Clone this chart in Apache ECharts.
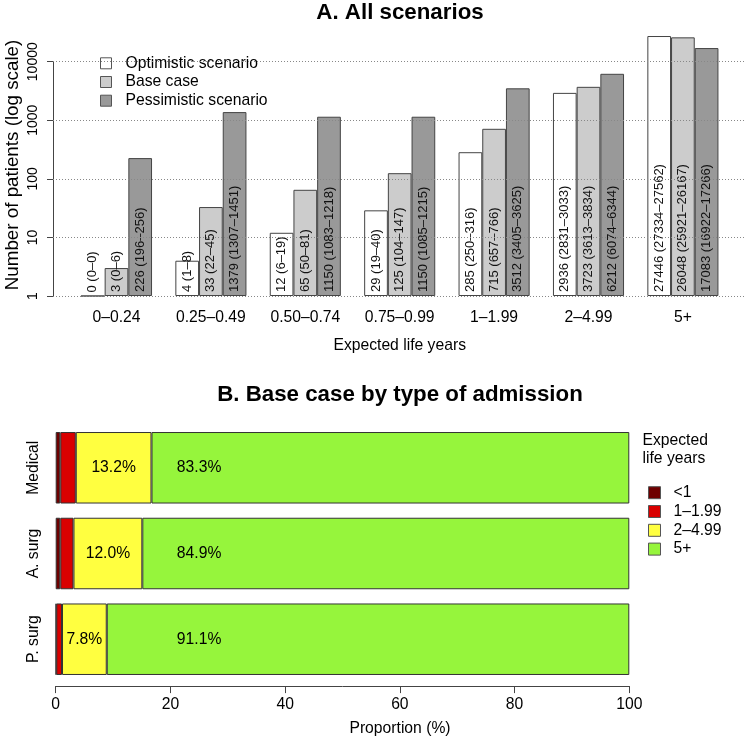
<!DOCTYPE html>
<html><head><meta charset="utf-8">
<script src="https://cdn.jsdelivr.net/npm/echarts@6/dist/echarts.min.js"></script>
<style>html,body{margin:0;padding:0;background:#fff}#c{width:745px;height:740px}</style>
</head><body><div id="c"></div>
<script>
// ---------- Panel A data ----------
const categories = ['0–0.24', '0.25–0.49', '0.50–0.74', '0.75–0.99', '1–1.99', '2–4.99', '5+'];
const scenarioNames = ['Optimistic scenario', 'Base case', 'Pessimistic scenario'];
const optimistic     = [0, 4, 12, 29, 285, 2936, 27446];
const optimisticLow  = [0, 1, 6, 19, 250, 2831, 27334];
const optimisticHigh = [0, 8, 19, 40, 316, 3033, 27562];
const baseCase       = [3, 33, 65, 125, 715, 3723, 26048];
const baseCaseLow    = [0, 22, 50, 104, 657, 3613, 25921];
const baseCaseHigh   = [6, 45, 81, 147, 766, 3834, 26167];
const pessimistic     = [226, 1379, 1150, 1150, 3512, 6212, 17083];
const pessimisticLow  = [196, 1307, 1083, 1085, 3405, 6074, 16922];
const pessimisticHigh = [256, 1451, 1218, 1215, 3625, 6344, 17266];
const yTicks = [1, 10, 100, 1000, 10000];

// ---------- Panel B data ----------
const admission = ['Medical', 'A. surg', 'P. surg'];
const lifeGroups = ['<1', '1–1.99', '2–4.99', '5+'];
const under1   = [0.8, 0.8, 0.1];
const y1to2    = [2.7, 2.3, 1.0];
const y2to5    = [13.2, 12.0, 7.8];
const y5plus   = [83.3, 84.9, 91.1];
const xTicksB  = [0, 20, 40, 60, 80, 100];
const GREEN_LABEL_AT = 25; // axis value where the 5+ labels are centred

// ---------- layout / style ----------
const FONT = 'Liberation Sans, Arial, Helvetica, sans-serif';
const TXT = '#000';
const LINE = '#444';
const gridA = {left: 69.3, right: 14.9, top: 61.7, bottom: 444};
const gridB = {left: 55.7, right: 115.7, top: 424.9, bottom: 57.9};
const pxPerPct = (745 - gridB.left - gridB.right) / 100;

function barLabel(vals, lo, hi) {
  return {
    show: true, position: 'insideBottom', rotate: 90, align: 'left', verticalAlign: 'middle',
    distance: 4, fontSize: 13, color: '#111', fontFamily: FONT,
    formatter: p => `${vals[p.dataIndex]} (${lo[p.dataIndex]}–${hi[p.dataIndex]})`
  };
}
function topSeries(name, vals, lo, hi, color) {
  return {
    name, type: 'bar', xAxisIndex: 0, yAxisIndex: 0, clip: false,
    barGap: '0%', barCategoryGap: '24.7%',
    itemStyle: {color, borderColor: LINE, borderWidth: 1},
    label: barLabel(vals, lo, hi),
    data: vals.map(v => Math.max(v, yTicks[0]))
  };
}
const bColors = ['#6E0000', '#D90000', '#FFFF40', '#96F53C'];
const starts5 = admission.map((_, i) => under1[i] + y1to2[i] + y2to5[i]);
function botSeries(k, vals, labelCfg) {
  return {
    name: lifeGroups[k], type: 'bar', stack: 'b', xAxisIndex: 2, yAxisIndex: 2,
    barCategoryGap: '16.6%',
    itemStyle: {color: bColors[k], borderColor: '#333', borderWidth: 1},
    label: labelCfg || {show: false},
    data: vals
  };
}

const option = {
  animation: false,
  textStyle: {fontFamily: FONT, color: TXT},
  title: [
    {text: 'A. All scenarios', left: 400, top: 2, textAlign: 'center', padding: 0,
     textStyle: {fontSize: 22.3, fontWeight: 'bold', color: TXT, fontFamily: FONT, lineHeight: 22}},
    {text: 'B. Base case by type of admission', left: 400, top: 384, textAlign: 'center', padding: 0,
     textStyle: {fontSize: 22.3, fontWeight: 'bold', color: TXT, fontFamily: FONT, lineHeight: 22}},
    {text: 'Expected\nlife years', left: 642.5, top: 431.5, padding: 0,
     textStyle: {fontSize: 15.7, fontWeight: 'normal', color: TXT, fontFamily: FONT, lineHeight: 18.3}}
  ],
  legend: [
    {data: scenarioNames, orient: 'vertical', left: 95, top: 50.3, itemWidth: 11, itemHeight: 11, itemGap: 2.7,
     selectedMode: false, icon: 'rect',
     itemStyle: {borderColor: '#555', borderWidth: 1},
     textStyle: {fontSize: 15.7, color: TXT, lineHeight: 16, padding: [0, 0, 0, 9], fontFamily: FONT}},
    {data: lifeGroups, orient: 'vertical', left: 643, top: 479.7, itemWidth: 12, itemHeight: 12, itemGap: 2.8,
     selectedMode: false, icon: 'rect',
     itemStyle: {borderColor: '#555', borderWidth: 1},
     textStyle: {fontSize: 15.7, color: TXT, lineHeight: 16, padding: [0, 0, 0, 8], fontFamily: FONT}}
  ],
  grid: [
    Object.assign({containLabel: false}, gridA),
    {left: 53, right: 0, top: gridA.top, bottom: gridA.bottom},
    Object.assign({containLabel: false}, gridB)
  ],
  xAxis: [
    {gridIndex: 0, type: 'category', data: categories,
     axisLine: {show: false, onZero: false}, axisTick: {show: false},
     axisLabel: {fontSize: 15.7, color: TXT, margin: 14, fontFamily: FONT},
     name: 'Expected life years', nameLocation: 'middle', nameGap: 42,
     nameTextStyle: {fontSize: 15.7, color: TXT, fontFamily: FONT}},
    {gridIndex: 1, type: 'value', min: 0, max: 1, show: false},
    {gridIndex: 2, type: 'value', min: xTicksB[0], max: xTicksB[xTicksB.length - 1], interval: 20, offset: 4,
     axisLine: {show: true, onZero: false, lineStyle: {color: LINE}},
     axisTick: {show: true, length: 7, lineStyle: {color: LINE}},
     axisLabel: {fontSize: 15.7, color: TXT, margin: 11, fontFamily: FONT},
     splitLine: {show: false}}
  ],
  yAxis: [
    {gridIndex: 0, type: 'log', logBase: 10, min: yTicks[0], max: yTicks[yTicks.length - 1], offset: 16.3,
     axisLine: {show: true, lineStyle: {color: LINE}},
     axisTick: {show: true, length: 6, lineStyle: {color: LINE}},
     axisLabel: {rotate: 90, fontSize: 14, color: TXT, margin: 13, fontFamily: FONT,
                 formatter: v => String(Math.round(v))},
     splitLine: {show: false}},
    {gridIndex: 1, type: 'log', logBase: 10, min: yTicks[0], max: yTicks[yTicks.length - 1], z: 5,
     axisLine: {show: false}, axisTick: {show: false}, axisLabel: {show: false},
     splitLine: {show: true, lineStyle: {type: [1, 2], color: '#888', width: 1}}},
    {gridIndex: 2, type: 'category', inverse: true, data: admission,
     axisLine: {show: false}, axisTick: {show: false},
     axisLabel: {rotate: 90, fontSize: 15.7, color: TXT, margin: 14, fontFamily: FONT}}
  ],
  graphic: [
    {type: 'text', x: 13, y: 165, rotation: Math.PI / 2,
     style: {text: 'Number of patients (log scale)', fill: TXT, font: '18.8px ' + FONT,
             textAlign: 'center', textVerticalAlign: 'middle'}},
    {type: 'text', x: 400, y: 729,
     style: {text: 'Proportion (%)', fill: TXT, font: '15.7px ' + FONT,
             textAlign: 'center', textVerticalAlign: 'middle'}}
  ],
  series: [
    topSeries(scenarioNames[0], optimistic, optimisticLow, optimisticHigh, '#FFFFFF'),
    topSeries(scenarioNames[1], baseCase, baseCaseLow, baseCaseHigh, '#CCCCCC'),
    topSeries(scenarioNames[2], pessimistic, pessimisticLow, pessimisticHigh, '#999999'),
    botSeries(0, under1),
    botSeries(1, y1to2),
    botSeries(2, y2to5, {show: true, position: 'inside', fontSize: 15.7, color: TXT, fontFamily: FONT,
                         formatter: p => p.value.toFixed(1) + '%'}),
    botSeries(3, y5plus.map((v, i) => ({
      value: v,
      label: {position: [(GREEN_LABEL_AT - starts5[i]) * pxPerPct, '50%']}
    })), {show: true, align: 'center', verticalAlign: 'middle', fontSize: 15.7, color: TXT, fontFamily: FONT,
          formatter: p => p.value.toFixed(1) + '%'})
  ]
};
const chart = echarts.init(document.getElementById('c'), null, {renderer: 'canvas'});
chart.setOption(option);
</script>
</body></html>
